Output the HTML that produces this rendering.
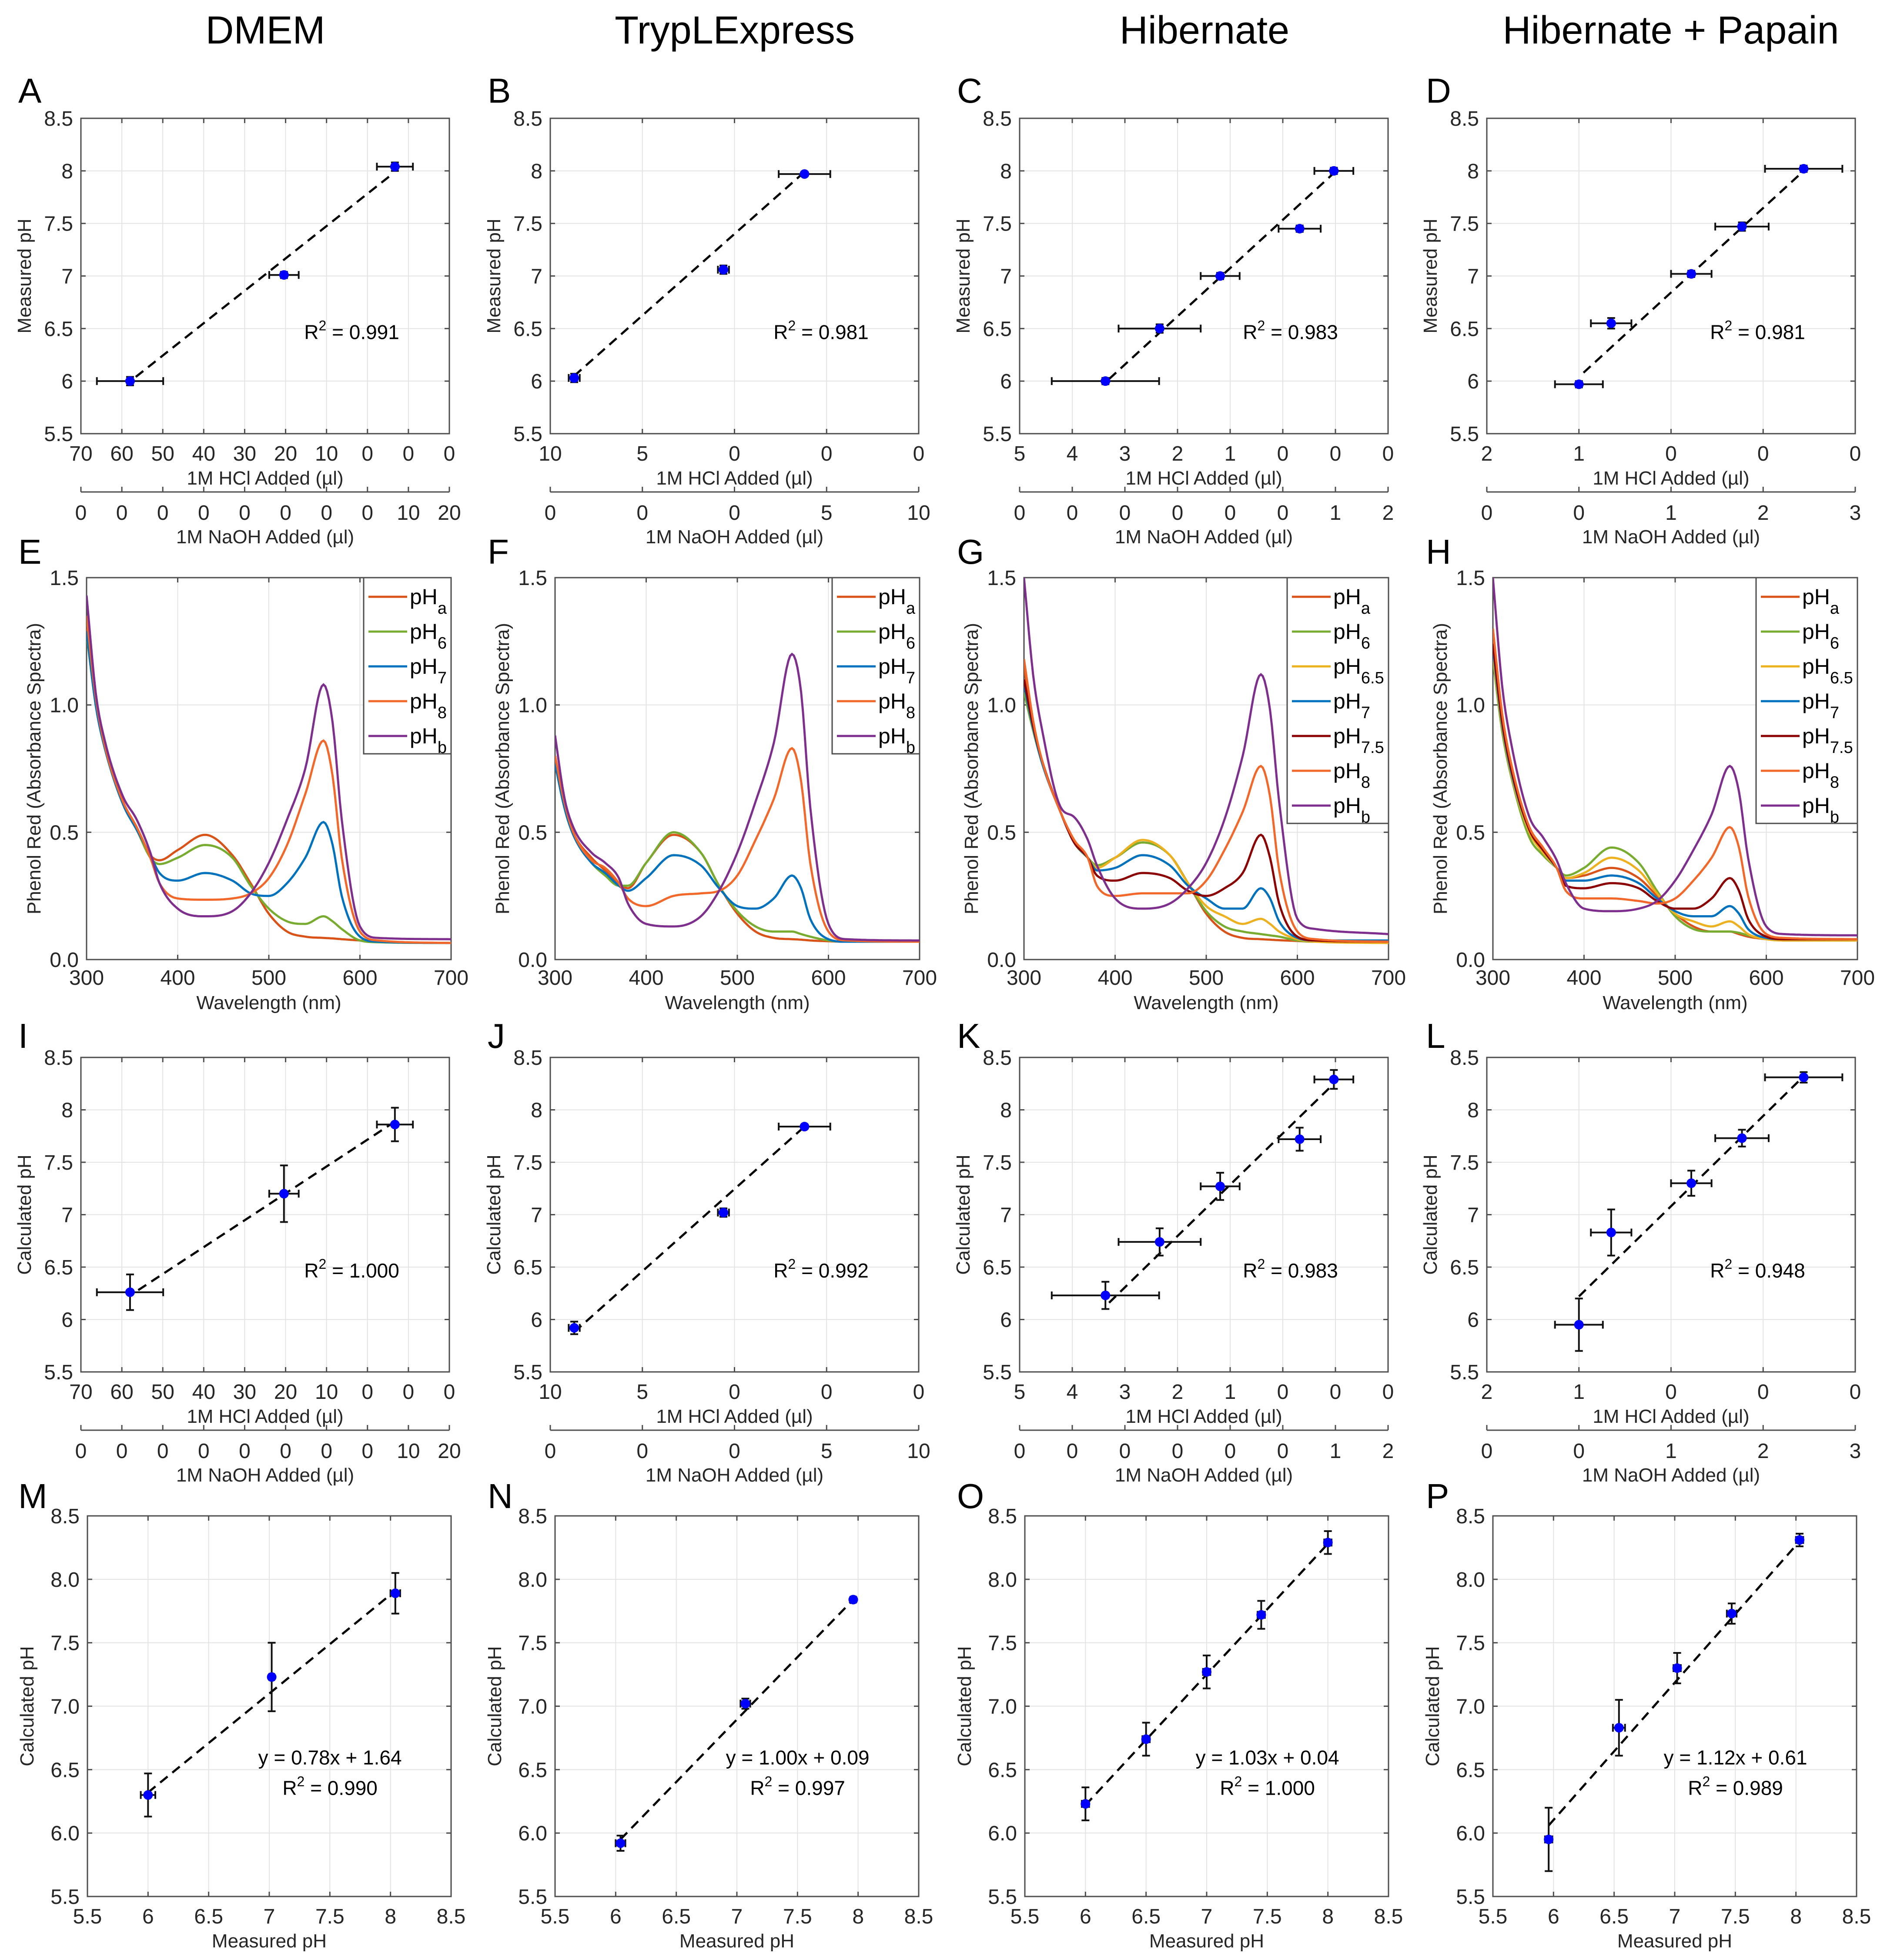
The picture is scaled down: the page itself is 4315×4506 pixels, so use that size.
<!DOCTYPE html>
<html><head><meta charset="utf-8">
<style>
html,body{margin:0;padding:0;background:#fff;}
svg{display:block;font-family:"Liberation Sans",Arial,sans-serif;}
</style></head>
<body>
<svg id="fig" xmlns="http://www.w3.org/2000/svg" width="4315" height="4506" viewBox="0 0 4315 4506">
<rect x="0" y="0" width="4315" height="4506" fill="#fff"/>
</svg>
<script>
// ---------- Titration panels (rows 1 & 3), HCl added (x), pH (y) ----------
const topLabelsA = ["70","60","50","40","30","20","10","0","0","0"];
const botLabelsA = ["0","0","0","0","0","0","0","0","10","20"];
const topLabelsB = ["10","5","0","0","0"];
const botLabelsB = ["0","0","0","5","10"];
const topLabelsC = ["5","4","3","2","1","0","0","0"];
const botLabelsC = ["0","0","0","0","0","0","1","2"];
const topLabelsD = ["2","1","0","0","0"];
const botLabelsD = ["0","0","1","2","3"];
const phTicks = [5.5,6,6.5,7,7.5,8,8.5];
const phTickLabels = ["5.5","6","6.5","7","7.5","8","8.5"];
const phTickLabels2 = ["5.5","6.0","6.5","7.0","7.5","8.0","8.5"];

const hclA = [58, 20.4, -6.7];      const hclErrA = [8.1, 3.6, 4.4];
const hclB = [8.7, 0.6, -3.8];      const hclErrB = [0.3, 0.3, 1.4];
const hclC = [3.37, 2.34, 1.19, -0.32, -0.97]; const hclErrC = [1.02, 0.78, 0.37, 0.4, 0.37];
const hclD = [1.0, 0.65, -0.22, -0.77, -1.44]; const hclErrD = [0.26, 0.22, 0.22, 0.29, 0.42];

const measA = [6.0, 7.01, 8.04];    const measErrA = [0.04, 0.03, 0.04];
const measB = [6.03, 7.06, 7.97];   const measErrB = [0.04, 0.04, 0.02];
const measC = [6.0, 6.5, 7.0, 7.45, 8.0]; const measErrC = [0.03, 0.04, 0.03, 0.03, 0.03];
const measD = [5.97, 6.55, 7.02, 7.47, 8.02]; const measErrD = [0.03, 0.05, 0.03, 0.04, 0.03];

const calcI = [6.26, 7.2, 7.86];    const calcErrI = [0.17, 0.27, 0.16];
const calcJ = [5.92, 7.02, 7.84];   const calcErrJ = [0.06, 0.04, 0.02];
const calcK = [6.23, 6.74, 7.27, 7.72, 8.29]; const calcErrK = [0.13, 0.13, 0.13, 0.11, 0.09];
const calcL = [5.95, 6.83, 7.3, 7.73, 8.31];  const calcErrL = [0.25, 0.22, 0.12, 0.08, 0.05];

const fitA = [[56.6,6.04],[-6.4,7.98]];
const fitB = [[8.7,6.05],[-3.8,7.99]];
const fitC = [[3.3,6.02],[-0.95,7.97]];
const fitD = [[0.95,6.08],[-1.44,8.0]];
const fitI = [[56,6.28],[-6.4,7.88]];
const fitJ = [[8.7,5.88],[-3.8,7.84]];
const fitK = [[3.3,6.16],[-0.97,8.25]];
const fitL = [[1.0,6.22],[-1.44,8.32]];
const r2Row1 = ["0.991","0.981","0.983","0.981"];
const r2Row3 = ["1.000","0.992","0.983","0.948"];

// ---------- Row 4: measured vs calculated ----------
const measM = [6.0, 7.02, 8.04];   const measXErrM = [0.06, 0.02, 0.04];
const measN = [6.04, 7.07, 7.96];  const measXErrN = [0.04, 0.04, 0.02];
const measO = [6.0, 6.5, 7.0, 7.45, 8.0]; const measXErrO = [0.03, 0.03, 0.03, 0.03, 0.03];
const measP = [5.96, 6.54, 7.02, 7.47, 8.03]; const measXErrP = [0.03, 0.05, 0.03, 0.04, 0.03];
const calcM = [6.3, 7.23, 7.89];
const fitM = [[6.0,6.32],[8.04,7.91]];
const fitN = [[6.04,5.95],[7.96,7.84]];
const fitO = [[6.0,6.22],[8.0,8.28]];
const fitP = [[5.96,6.06],[8.03,8.3]];
const eqRow4 = ["y = 0.78x + 1.64","y = 1.00x + 0.09","y = 1.03x + 0.04","y = 1.12x + 0.61"];
const r2Row4 = ["0.990","0.997","1.000","0.989"];

// ---------- Spectra (row 2) ----------
const wavelengths = [300,310,320,340,355,370,380,400,430,460,480,500,520,540,560,570,580,600,620,700];
const specE_a = [1.30,1.02,0.84,0.62,0.52,0.41,0.39,0.43,0.49,0.41,0.30,0.18,0.11,0.09,0.085,0.083,0.08,0.075,0.07,0.065];
const specE_6 = [1.28,1.00,0.83,0.61,0.51,0.40,0.375,0.40,0.45,0.40,0.29,0.20,0.15,0.14,0.17,0.15,0.12,0.075,0.068,0.065];
const specE_7 = [1.29,1.00,0.83,0.61,0.51,0.41,0.34,0.31,0.34,0.31,0.26,0.25,0.30,0.40,0.54,0.45,0.25,0.09,0.07,0.065];
const specE_8 = [1.35,1.03,0.84,0.62,0.52,0.40,0.30,0.24,0.235,0.24,0.26,0.32,0.45,0.65,0.86,0.72,0.40,0.11,0.075,0.065];
const specE_b = [1.43,1.05,0.86,0.64,0.55,0.42,0.30,0.20,0.17,0.19,0.26,0.38,0.55,0.75,1.08,0.93,0.55,0.13,0.085,0.08];

const specF_a = [0.80,0.62,0.50,0.40,0.35,0.30,0.28,0.38,0.49,0.42,0.29,0.18,0.11,0.085,0.08,0.078,0.075,0.072,0.07,0.07];
const specF_6 = [0.77,0.60,0.49,0.38,0.33,0.29,0.29,0.38,0.50,0.42,0.29,0.19,0.13,0.11,0.11,0.10,0.09,0.075,0.07,0.07];
const specF_7 = [0.77,0.60,0.49,0.38,0.34,0.29,0.27,0.32,0.41,0.37,0.28,0.21,0.20,0.24,0.33,0.28,0.16,0.08,0.07,0.07];
const specF_8 = [0.80,0.62,0.50,0.39,0.36,0.30,0.24,0.21,0.25,0.26,0.27,0.33,0.47,0.63,0.83,0.70,0.38,0.11,0.075,0.07];
const specF_b = [0.88,0.64,0.52,0.42,0.38,0.32,0.22,0.14,0.13,0.17,0.27,0.42,0.62,0.85,1.20,1.05,0.60,0.14,0.08,0.075];

const specG_a = [1.15,0.93,0.78,0.58,0.47,0.40,0.37,0.40,0.46,0.41,0.30,0.18,0.11,0.085,0.08,0.078,0.076,0.073,0.07,0.07];
const specG_6 = [1.05,0.90,0.77,0.58,0.46,0.40,0.37,0.40,0.46,0.41,0.30,0.19,0.13,0.11,0.10,0.095,0.09,0.075,0.07,0.07];
const specG_65 = [1.08,0.91,0.77,0.58,0.46,0.40,0.36,0.40,0.47,0.41,0.30,0.21,0.17,0.14,0.16,0.14,0.11,0.08,0.07,0.065];
const specG_7 = [1.08,0.91,0.77,0.58,0.46,0.40,0.35,0.36,0.41,0.37,0.29,0.24,0.20,0.20,0.28,0.24,0.15,0.085,0.075,0.075];
const specG_75 = [1.10,0.92,0.78,0.58,0.46,0.40,0.33,0.31,0.34,0.32,0.27,0.25,0.28,0.34,0.49,0.40,0.22,0.09,0.075,0.07];
const specG_8 = [1.18,0.94,0.78,0.58,0.47,0.40,0.29,0.25,0.26,0.26,0.26,0.31,0.43,0.58,0.76,0.64,0.35,0.11,0.08,0.07];
const specG_b = [1.50,1.12,0.90,0.60,0.56,0.47,0.37,0.24,0.20,0.22,0.28,0.38,0.55,0.80,1.12,0.98,0.62,0.16,0.12,0.10];

const specH_a = [1.25,0.95,0.75,0.52,0.44,0.36,0.32,0.33,0.36,0.32,0.25,0.18,0.13,0.11,0.11,0.10,0.09,0.08,0.075,0.075];
const specH_6 = [1.18,0.90,0.72,0.48,0.41,0.36,0.33,0.36,0.44,0.38,0.27,0.17,0.12,0.11,0.11,0.105,0.095,0.08,0.075,0.075];
const specH_65 = [1.20,0.92,0.73,0.50,0.42,0.36,0.32,0.34,0.40,0.35,0.26,0.18,0.15,0.13,0.15,0.13,0.10,0.08,0.075,0.075];
const specH_7 = [1.22,0.93,0.74,0.51,0.43,0.36,0.31,0.31,0.33,0.30,0.24,0.19,0.17,0.17,0.21,0.18,0.12,0.085,0.08,0.08];
const specH_75 = [1.24,0.94,0.75,0.51,0.43,0.36,0.29,0.28,0.30,0.28,0.23,0.20,0.20,0.24,0.32,0.27,0.16,0.09,0.08,0.08];
const specH_8 = [1.30,0.97,0.77,0.52,0.44,0.36,0.27,0.24,0.24,0.23,0.22,0.24,0.31,0.40,0.52,0.44,0.25,0.10,0.085,0.08];
const specH_b = [1.50,1.08,0.85,0.56,0.48,0.39,0.30,0.20,0.19,0.20,0.23,0.31,0.43,0.57,0.76,0.66,0.40,0.13,0.10,0.095];

const specTicksX = [300,400,500,600,700];
const specTicksY = [0,0.5,1.0,1.5];
const specTickLabelsY = ["0.0","0.5","1.0","1.5"];
const columnTitles = ["DMEM","TrypLExpress","Hibernate","Hibernate + Papain"];
const panelLetters = ["A","B","C","D","E","F","G","H","I","J","K","L","M","N","O","P"];

// ---------- drawing ----------
const NS = "http://www.w3.org/2000/svg";
const svg = document.getElementById("fig");
const FONT_TXT = "#262626";
const AX = "#4d4d4d";
function mk(tag, attrs, parent){
  const e = document.createElementNS(NS, tag);
  for (const k in attrs) e.setAttribute(k, attrs[k]);
  (parent || svg).appendChild(e);
  return e;
}
function txt(x, y, s, size, anchor, parent, extra){
  const a = {x:x, y:y, "font-size":size, fill:FONT_TXT, "text-anchor":anchor||"middle"};
  if (extra) for (const k in extra) a[k] = extra[k];
  const t = mk("text", a, parent);
  t.textContent = s;
  return t;
}
const colL = [186, 1265, 2344, 3418];
const colLSpec = [199, 1276, 2354, 3432];
const colLRow4 = [201, 1276, 2356, 3432];
const rows = [{T:272,B:997},{T:1328,B:2206},{T:2431,B:3154},{T:3485,B:4360}];

function linScale(d0, d1, r0, r1){ return v => r0 + (v - d0) / (d1 - d0) * (r1 - r0); }

function axesFrame(g, L, T, W, H, xPos, yPos){
  // grid
  xPos.forEach(px => {
    const gl = mk("line", {x1:px, y1:T, x2:px, y2:T+H, stroke:"#e3e3e3", "stroke-width":2}, g);
    
    
  });
  yPos.forEach(py => {
    const gl = mk("line", {x1:L, y1:py, x2:L+W, y2:py, stroke:"#e3e3e3", "stroke-width":2}, g);
    
    
  });
  const box = mk("rect", {x:L, y:T, width:W, height:H, fill:"none", stroke:AX, "stroke-width":3}, g);
  
  
  xPos.forEach(px => {
    mk("line", {x1:px, y1:T+H, x2:px, y2:T+H-11, stroke:AX, "stroke-width":3}, g);
    mk("line", {x1:px, y1:T, x2:px, y2:T+11, stroke:AX, "stroke-width":3}, g);
  });
  yPos.forEach(py => {
    mk("line", {x1:L, y1:py, x2:L+11, y2:py, stroke:AX, "stroke-width":3}, g);
    mk("line", {x1:L+W, y1:py, x2:L+W-11, y2:py, stroke:AX, "stroke-width":3}, g);
  });
}

function yAxisLabels(g, L, ys, labels, ylabel, yc, off){
  ys.forEach((py, i) => {
    const t = txt(L - 18, py + 17, labels[i], 48, "end", g);
    
    
  });
  const yl = txt(0, 0, ylabel, 44, "middle", g, {transform:"translate(" + (L - off) + "," + yc + ") rotate(-90)"});
  
  
}

function errPoints(g, sx, sy, xs, ys, xe, ye){
  for (let i = 0; i < xs.length; i++){
    const cx = sx(xs[i]), cy = sy(ys[i]);
    const x1 = sx(xs[i] - xe[i]), x2 = sx(xs[i] + xe[i]);
    const y1 = sy(ys[i] - ye[i]), y2 = sy(ys[i] + ye[i]);
    const eb = mk("path", {d:"M"+x1+","+cy+"H"+x2+"M"+x1+","+(cy-9)+"V"+(cy+9)+"M"+x2+","+(cy-9)+"V"+(cy+9)+
      "M"+cx+","+y1+"V"+y2+"M"+(cx-9)+","+y1+"H"+(cx+9)+"M"+(cx-9)+","+y2+"H"+(cx+9),
      stroke:"#111", "stroke-width":4, fill:"none"}, g);
    
    
    const dot = mk("circle", {cx:cx, cy:cy, r:11, fill:"#0000ff"}, g);
    
    
  }
}
function fitLine(g, sx, sy, fit){
  const l = mk("line", {x1:sx(fit[0][0]), y1:sy(fit[0][1]), x2:sx(fit[1][0]), y2:sy(fit[1][1]),
    stroke:"#000", "stroke-width":5, "stroke-dasharray":"22 14"}, g);
  
  
}
function r2Text(g, x, y, val, anchor){
  const t = mk("text", {x:x, y:y, "font-size":46, fill:"#000", "text-anchor":anchor}, g);
  
  
  const a = mk("tspan", {}, t); a.textContent = "R";
  const b = mk("tspan", {dy:-20, "font-size":32}, t); b.textContent = "2";
  const c = mk("tspan", {dy:20}, t); c.textContent = " = " + val;
}

function titrationPanel(idx, row, topLabels, botLabels, xLeft, xRight, xs, xe, ys, ye, fit, r2, ylabel){
  const L = colL[idx], T = rows[row].T, B = rows[row].B, W = 847, H = B - T;
  const g = mk("g", {});
  
  
  const sx = linScale(xLeft, xRight, L, L + W);
  const sy = linScale(5.5, 8.5, B, T);
  const n = topLabels.length;
  const xPos = topLabels.map((_, i) => L + i / (n - 1) * W);
  const yPos = phTicks.map(sy);
  axesFrame(g, L, T, W, H, xPos, yPos);
  topLabels.forEach((s, i) => {
    const t = txt(xPos[i], B + 62, s, 48, "middle", g);
    
    
  });
  const xl = txt(L + W/2, B + 117, "1M HCl Added (µl)", 44, "middle", g);
  
  
  const ax2 = mk("line", {x1:L, y1:B+134, x2:L+W, y2:B+134, stroke:AX, "stroke-width":3}, g);
  
  
  botLabels.forEach((s, i) => {
    mk("line", {x1:xPos[i], y1:B+134, x2:xPos[i], y2:B+122, stroke:AX, "stroke-width":3}, g);
    const t = txt(xPos[i], B + 198, s, 48, "middle", g);
    
    
  });
  const xl2 = txt(L + W/2, B + 252, "1M NaOH Added (µl)", 44, "middle", g);
  
  
  yAxisLabels(g, L, yPos, phTickLabels, ylabel, T + H/2, 115);
  fitLine(g, sx, sy, fit);
  errPoints(g, sx, sy, xs, ys, xe, ye);
  r2Text(g, L + 0.606 * W, sy(6.4), r2, "start");
}

function measPanel(idx, xs, xe, ys, ye, fit, eq, r2){
  const L = colLRow4[idx], T = rows[3].T, B = rows[3].B, W = 836, H = B - T;
  const g = mk("g", {});
  
  
  const sx = linScale(5.5, 8.5, L, L + W);
  const sy = linScale(5.5, 8.5, B, T);
  const xPos = phTicks.map(sx), yPos = phTicks.map(sy);
  axesFrame(g, L, T, W, H, xPos, yPos);
  phTickLabels.forEach((s, i) => {
    const t = txt(xPos[i], B + 62, s, 48, "middle", g);
    
    
  });
  const xl = txt(L + W/2, B + 117, "Measured pH", 44, "middle", g);
  
  
  yAxisLabels(g, L, yPos, phTickLabels2, "Calculated pH", T + H/2, 124);
  fitLine(g, sx, sy, fit);
  errPoints(g, sx, sy, xs, ys, xe, ye);
  const e = txt(L + 0.667 * W, sy(6.54), eq, 46, "middle", g, {fill:"#000"});
  
  
  r2Text(g, L + 0.667 * W, sy(6.30), r2, "middle");
}

function monotone(xs, ys){
  const n = xs.length, d = [], m = new Array(n);
  for (let i = 0; i < n-1; i++) d.push((ys[i+1]-ys[i])/(xs[i+1]-xs[i]));
  m[0] = d[0]; m[n-1] = d[n-2];
  for (let i = 1; i < n-1; i++) m[i] = (d[i-1]*d[i] <= 0) ? 0 : (d[i-1]+d[i])/2;
  for (let i = 0; i < n-1; i++){
    if (d[i] === 0){ m[i] = 0; m[i+1] = 0; continue; }
    const a = m[i]/d[i], b = m[i+1]/d[i], s = a*a + b*b;
    if (s > 9){ const t = 3/Math.sqrt(s); m[i] = t*a*d[i]; m[i+1] = t*b*d[i]; }
  }
  return x => {
    let i = 0; while (i < n-2 && x > xs[i+1]) i++;
    const h = xs[i+1]-xs[i], t = (x - xs[i]) / h;
    const h00 = 2*t*t*t - 3*t*t + 1, h10 = t*t*t - 2*t*t + t, h01 = -2*t*t*t + 3*t*t, h11 = t*t*t - t*t;
    return h00*ys[i] + h10*h*m[i] + h01*ys[i+1] + h11*h*m[i+1];
  };
}

const C_A = "#d95319", C_6 = "#77ac30", C_65 = "#edb120", C_7 = "#0072bd", C_75 = "#8b0000", C_8 = "#f2682a", C_B = "#7e2f8e";

function specPanel(idx, series, subs, colors){
  const L = colLSpec[idx], T = rows[1].T, B = rows[1].B, W = 838, H = B - T;
  const g = mk("g", {});
  
  
  const sx = linScale(300, 700, L, L + W);
  const sy = linScale(0, 1.5, B, T);
  const xPos = specTicksX.map(sx), yPos = specTicksY.map(sy);
  axesFrame(g, L, T, W, H, xPos, yPos);
  specTicksX.forEach((v, i) => {
    const t = txt(xPos[i], B + 58, String(v), 48, "middle", g);
    
    
  });
  const xl = txt(L + W/2, B + 114, "Wavelength (nm)", 44, "middle", g);
  
  
  yAxisLabels(g, L, yPos, specTickLabelsY, "Phenol Red (Absorbance Spectra)", T + H/2, 106);
  const clip = mk("clipPath", {id:"clip" + idx}, g);
  mk("rect", {x:L, y:T, width:W, height:H}, clip);
  series.forEach((vals, k) => {
    const f = monotone(wavelengths, vals);
    let d = "";
    for (let w = 300; w <= 700; w += 2) d += (w === 300 ? "M" : "L") + sx(w).toFixed(1) + "," + sy(f(w)).toFixed(1);
    const p = mk("path", {d:d, fill:"none", stroke:colors[k], "stroke-width":5, "clip-path":"url(#clip" + idx + ")"}, g);
    
    
  });
  // legend
  const lw = subs.length > 5 ? 233 : 201;
  const lh = subs.length * 80 + 5;
  const lx = L + W - lw;
  const lg = mk("g", {}, g);
  
  
  mk("rect", {x:lx, y:T, width:lw, height:lh, fill:"#fff", stroke:AX, "stroke-width":3}, lg);
  subs.forEach((s, k) => {
    const cy = T + 44 + 80 * k;
    const ln = mk("line", {x1:lx+11, y1:cy, x2:lx+100, y2:cy, stroke:colors[k], "stroke-width":5}, lg);
    
    
    const t = mk("text", {x:lx+106, y:cy+17, "font-size":50, fill:"#000"}, lg);
    
    
    const a = mk("tspan", {}, t); a.textContent = "pH";
    const b = mk("tspan", {dy:22, "font-size":38}, t); b.textContent = s;
  });
}

// column titles
const titleX = [610, 1689, 2769, 3841];
columnTitles.forEach((s, i) => {
  const t = txt(titleX[i], 100, s, 90, "middle", svg, {fill:"#000"});
  
  
});

titrationPanel(0, 0, topLabelsA, botLabelsA, 70, -20, hclA, hclErrA, measA, measErrA, fitA, r2Row1[0], "Measured pH");
titrationPanel(1, 0, topLabelsB, botLabelsB, 10, -10, hclB, hclErrB, measB, measErrB, fitB, r2Row1[1], "Measured pH");
titrationPanel(2, 0, topLabelsC, botLabelsC, 5, -2, hclC, hclErrC, measC, measErrC, fitC, r2Row1[2], "Measured pH");
titrationPanel(3, 0, topLabelsD, botLabelsD, 2, -2, hclD, hclErrD, measD, measErrD, fitD, r2Row1[3], "Measured pH");

specPanel(0, [specE_a, specE_6, specE_7, specE_8, specE_b], ["a","6","7","8","b"], [C_A, C_6, C_7, C_8, C_B]);
specPanel(1, [specF_a, specF_6, specF_7, specF_8, specF_b], ["a","6","7","8","b"], [C_A, C_6, C_7, C_8, C_B]);
specPanel(2, [specG_a, specG_6, specG_65, specG_7, specG_75, specG_8, specG_b], ["a","6","6.5","7","7.5","8","b"], [C_A, C_6, C_65, C_7, C_75, C_8, C_B]);
specPanel(3, [specH_a, specH_6, specH_65, specH_7, specH_75, specH_8, specH_b], ["a","6","6.5","7","7.5","8","b"], [C_A, C_6, C_65, C_7, C_75, C_8, C_B]);

titrationPanel(0, 2, topLabelsA, botLabelsA, 70, -20, hclA, hclErrA, calcI, calcErrI, fitI, r2Row3[0], "Calculated pH");
titrationPanel(1, 2, topLabelsB, botLabelsB, 10, -10, hclB, hclErrB, calcJ, calcErrJ, fitJ, r2Row3[1], "Calculated pH");
titrationPanel(2, 2, topLabelsC, botLabelsC, 5, -2, hclC, hclErrC, calcK, calcErrK, fitK, r2Row3[2], "Calculated pH");
titrationPanel(3, 2, topLabelsD, botLabelsD, 2, -2, hclD, hclErrD, calcL, calcErrL, fitL, r2Row3[3], "Calculated pH");

measPanel(0, measM, measXErrM, calcM, calcErrI, fitM, eqRow4[0], r2Row4[0]);
measPanel(1, measN, measXErrN, calcJ, calcErrJ, fitN, eqRow4[1], r2Row4[1]);
measPanel(2, measO, measXErrO, calcK, calcErrK, fitO, eqRow4[2], r2Row4[2]);
measPanel(3, measP, measXErrP, calcL, calcErrL, fitP, eqRow4[3], r2Row4[3]);

// panel letters
const letterBase = [rows[0].T - 36, rows[1].T - 32, rows[2].T - 22, rows[3].T - 18];
const letterX = [42, 1121, 2200, 3278];
panelLetters.forEach((s, i) => {
  const r = Math.floor(i / 4), c = i % 4;
  const t = txt(letterX[c], letterBase[r], s, 80, "start", svg, {fill:"#000"});
  
  
});
</script>
</body></html>
